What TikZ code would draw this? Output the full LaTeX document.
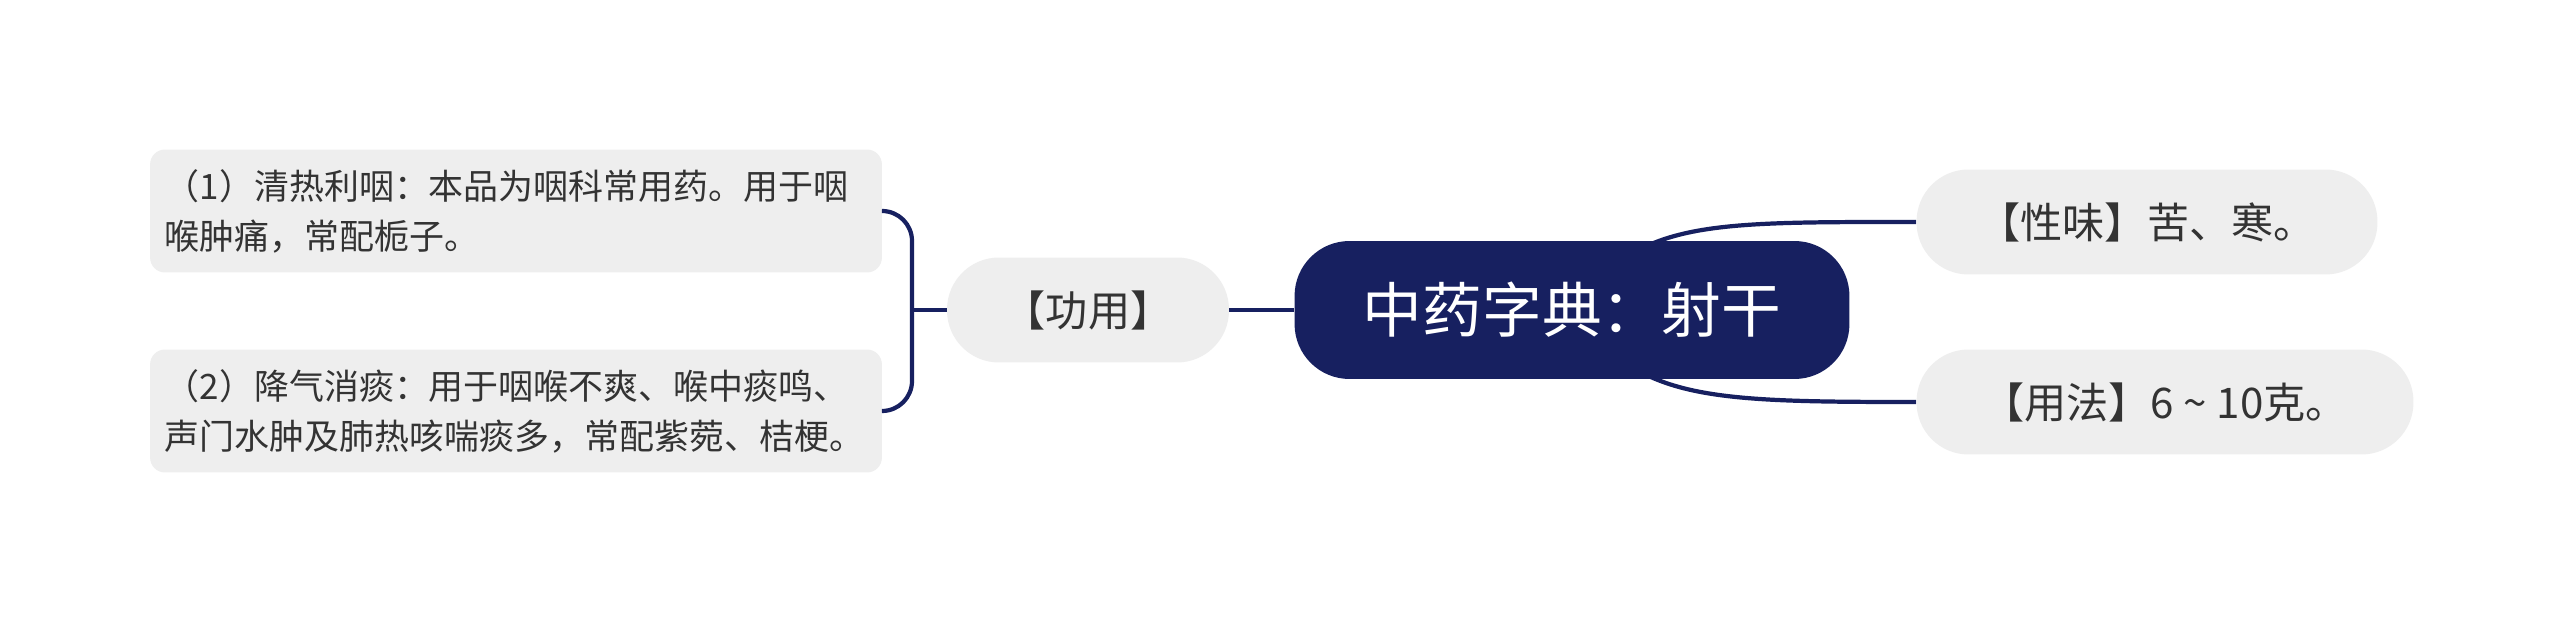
\documentclass[tikz,border=0pt]{standalone}
\usepackage{fontspec}
\setmainfont{Noto Sans CJK SC}
\usetikzlibrary{backgrounds}
\definecolor{navy}{RGB}{23,32,96}
\definecolor{leaf}{RGB}{238,238,238}
\definecolor{ink}{RGB}{51,51,51}

\begin{document}
\begin{tikzpicture}[x=0.02cm, y=-0.02cm,
	topic/.style={fill=leaf, text=ink, rounded corners=1.04cm, minimum height=2.1cm, inner sep=0pt, font=\fontsize{24pt}{28pt}\selectfont},
	note/.style={fill=leaf, text=ink, rounded corners=0.3cm, minimum width=14.64cm, minimum height=2.46cm, inner sep=0pt, text width=14.05cm, align=left, font=\fontsize{19.9pt}{28.5pt}\selectfont},
	conn/.style={draw=navy, line width=2.4pt}]
				\useasboundingbox (0,0) rectangle (2560,621);
				\node[fill=navy, text=white, rounded corners=1.1cm, minimum width=11.1cm, minimum height=2.76cm, font=\fontsize{34pt}{40pt}\selectfont] (root)at(1572, 310) {中药字典：射干};
				\node[topic, minimum width=5.64cm] (gy)at(1088, 310) {【功用】};
				\node[topic, minimum width=9.22cm] (xw)at(2147, 222) {【性味】苦、寒。};
				\node[topic, minimum width=9.94cm] (yf)at(2165, 402) {【用法】6 \char"7E\ 10克。};
				\node[note] (n1)at(516, 211) {（1）清热利咽：本品为咽科常用药。用于咽\\喉肿痛，常配栀子。};
				\node[note] (n2)at(516, 411) {（2）降气消痰：用于咽喉不爽、喉中痰鸣、\\声门水肿及肺热咳喘痰多，常配紫菀、桔梗。};
				\coordinate (jn) at (912, 310);
				\draw[conn] (root.west) -- (gy.east);
				\draw[conn] (gy.west) -- (jn);
				\draw[conn, rounded corners=0.6cm] (n1.east) -| (jn) |- (n2.east);
				\begin{pgfonlayer}{background}
					\fill[white] (0,0) rectangle (2560,621);
					\draw[conn] (root.center) .. controls +(68,-89) and +(-217,0) .. (xw.west);
					\draw[conn] (root.center) .. controls +(68,89) and +(-217,0) .. (yf.west);
				\end{pgfonlayer}
			\end{tikzpicture}
\end{document}
